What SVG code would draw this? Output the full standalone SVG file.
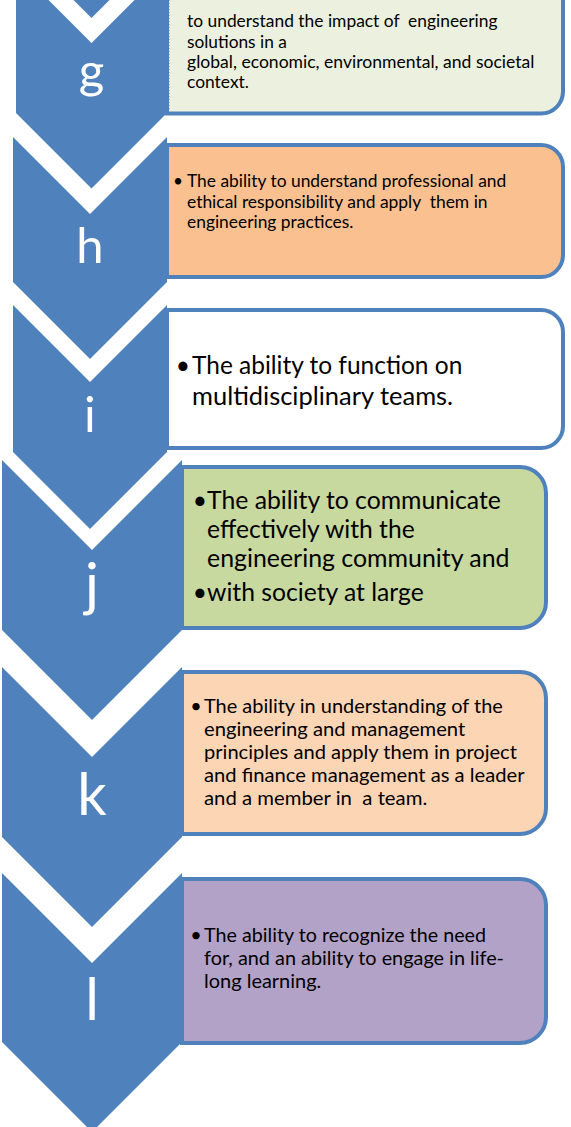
<svg xmlns="http://www.w3.org/2000/svg" width="571" height="1127" viewBox="0 0 571 1127">
<style>
.chev{fill:#4F81BD}
.box{stroke:#4F81BD;stroke-width:4}
.letter{font-family:Lato,"Open Sans","Liberation Sans",sans-serif;fill:#FFFFFF;text-anchor:middle}
.t{font-family:Lato,"Open Sans","Liberation Sans",sans-serif;fill:#000000;white-space:pre}
.s1{font-size:17.3px}
.s2{font-size:24.6px}
.s3{font-size:19.8px}
.b{text-anchor:middle}
</style>
<rect x="0" y="0" width="571" height="1127" fill="#FFFFFF"/>
<g id="connectors"></g>
<g id="node-f-part">
<polygon class="chev" points="16,-100 167,-100 167,-57.5 91.5,18 16,-57.5"/>
</g>
<g id="node-g">
<path class="box" fill="#EBF1DE" d="M167,-30 H541 A22,22 0 0 1 563,-8 V91.5 A22,22 0 0 1 541,113.5 H167 Z"/>
<line x1="169.5" y1="0" x2="169.5" y2="111" stroke="#9DB5D6" stroke-width="1" stroke-dasharray="1,2"/>
<polygon class="chev" points="16,-32.5 91.5,43 167,-32.5 167,113 91.5,188.5 16,113"/>
<text class="letter" x="91.5" y="88" font-size="49">g</text>
<text class="t s1" x="187" y="27" textLength="310.5" lengthAdjust="spacingAndGlyphs">to understand the impact of  engineering</text>
<text class="t s1" x="187" y="47.5" textLength="99.8" lengthAdjust="spacingAndGlyphs">solutions in a</text>
<text class="t s1" x="187" y="68" textLength="347.4" lengthAdjust="spacingAndGlyphs">global, economic, environmental, and societal</text>
<text class="t s1" x="187" y="88" textLength="61.9" lengthAdjust="spacingAndGlyphs">context.</text>
</g>
<g id="node-h">
<path class="box" fill="#FAC090" d="M167,145 H541 A22,22 0 0 1 563,167 V255 A22,22 0 0 1 541,277 H167 Z"/>
<polygon class="chev" points="13,137 90,214 167,137 167,282 90,359 13,282"/>
<text class="letter" x="90" y="263" font-size="49">h</text>
<text class="t s1 b" x="178" y="187">•</text>
<text class="t s1" x="187" y="187" textLength="319.2" lengthAdjust="spacingAndGlyphs">The ability to understand professional and</text>
<text class="t s1" x="187" y="207.5" textLength="300.6" lengthAdjust="spacingAndGlyphs">ethical responsibility and apply  them in</text>
<text class="t s1" x="187" y="228" textLength="166.4" lengthAdjust="spacingAndGlyphs">engineering practices.</text>
</g>
<g id="node-i">
<path class="box" fill="#FFFFFF" d="M167,310 H541 A22,22 0 0 1 563,332 V426 A22,22 0 0 1 541,448 H167 Z"/>
<polygon class="chev" points="13,305 90,382 167,305 167,452 90,529 13,452"/>
<text class="letter" x="90" y="432" font-size="49">i</text>
<text class="t s2 b" x="183" y="374">•</text>
<text class="t s2" x="192" y="374" textLength="270.3" lengthAdjust="spacingAndGlyphs">The ability to function on</text>
<text class="t s2" x="192" y="405" textLength="261.1" lengthAdjust="spacingAndGlyphs">multidisciplinary teams.</text>
</g>
<g id="node-j">
<path class="box" fill="#C8D9A0" d="M182,467 H520 A26,26 0 0 1 546,493 V602 A26,26 0 0 1 520,628 H182 Z"/>
<polygon class="chev" points="2,460 92,550 182,460 182,630 92,720 2,630"/>
<text class="letter" x="92" y="605" font-size="58">j</text>
<text class="t s2 b" x="200" y="509">•</text>
<text class="t s2" x="207" y="509" textLength="293.9" lengthAdjust="spacingAndGlyphs">The ability to communicate</text>
<text class="t s2" x="207" y="538" textLength="207.7" lengthAdjust="spacingAndGlyphs">effectively with the</text>
<text class="t s2" x="207" y="567" textLength="302.5" lengthAdjust="spacingAndGlyphs">engineering community and</text>
<text class="t s2 b" x="200" y="601">•</text>
<text class="t s2" x="207" y="601" textLength="216.7" lengthAdjust="spacingAndGlyphs">with society at large</text>
</g>
<g id="node-k">
<path class="box" fill="#FCD5B5" d="M182,672 H520 A26,26 0 0 1 546,698 V808 A26,26 0 0 1 520,834 H182 Z"/>
<polygon class="chev" points="2,667 92,757 182,667 182,837 92,927 2,837"/>
<text class="letter" x="92" y="815" font-size="58">k</text>
<text class="t s3 b" x="196" y="713">•</text>
<text class="t s3" x="204" y="713" textLength="298.9" lengthAdjust="spacingAndGlyphs">The ability in understanding of the</text>
<text class="t s3" x="204" y="736" textLength="261.2" lengthAdjust="spacingAndGlyphs">engineering and management</text>
<text class="t s3" x="204" y="759" textLength="312.9" lengthAdjust="spacingAndGlyphs">principles and apply them in project</text>
<text class="t s3" x="204" y="782" textLength="320.5" lengthAdjust="spacingAndGlyphs">and finance management as a leader</text>
<text class="t s3" x="204" y="805" textLength="223.2" lengthAdjust="spacingAndGlyphs">and a member in  a team.</text>
</g>
<g id="node-l">
<path class="box" fill="#B3A2C7" d="M182,879 H520 A26,26 0 0 1 546,905 V1017 A26,26 0 0 1 520,1043 H182 Z"/>
<polygon class="chev" points="2,873 92,963 182,873 182,1042 92,1132 2,1042"/>
<text class="letter" x="92" y="1020" font-size="58">l</text>
<text class="t s3 b" x="196" y="942">•</text>
<text class="t s3" x="204" y="942" textLength="282" lengthAdjust="spacingAndGlyphs">The ability to recognize the need</text>
<text class="t s3" x="204" y="965" textLength="300" lengthAdjust="spacingAndGlyphs">for, and an ability to engage in life-</text>
<text class="t s3" x="204" y="988" textLength="117.3" lengthAdjust="spacingAndGlyphs">long learning.</text>
</g>
</svg>
